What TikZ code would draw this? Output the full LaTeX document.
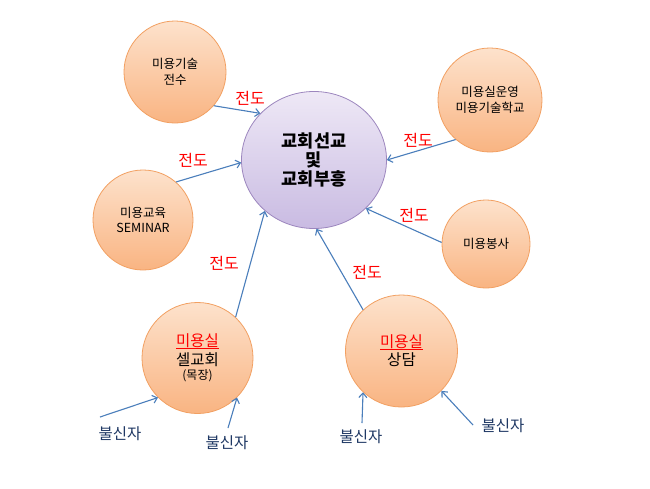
\documentclass[tikz,border=0pt]{standalone}
\usepackage{fontspec}
\setmainfont{Noto Sans CJK KR}
\usetikzlibrary{arrows.meta,shapes.geometric}
\definecolor{peachT}{HTML}{FDE2CC}
\definecolor{peachB}{HTML}{F9B482}
\definecolor{peachD}{HTML}{F2A062}
\definecolor{lilT}{HTML}{EEE8F6}
\definecolor{lilB}{HTML}{C9BBE2}
\definecolor{lilD}{HTML}{9C86BE}
\definecolor{arrowc}{HTML}{4A7EBB}
\definecolor{navy}{HTML}{1F3864}
\newcommand\redul[1]{\setbox0\hbox{#1}\rlap{\rule[-2.2pt]{\wd0}{0.9pt}}\box0}
\tikzset{
  orb/.style={circle, draw=peachD, line width=0.8pt, top color=peachT, bottom color=peachB, align=center, inner sep=0pt, font=\fontsize{12.5}{15.5}\selectfont},
  big/.style={font=\fontsize{15.5}{19}\selectfont},
  core/.style={ellipse, draw=lilD, line width=0.8pt, top color=lilT, bottom color=lilB, align=center, inner sep=0pt, minimum width=145pt, minimum height=137pt, font=\fontsize{17.5}{20}\selectfont\bfseries},
  lead/.style={text=red, font=\fontsize{16}{18}\selectfont},
  unb/.style={text=navy, font=\fontsize{15.5}{18}\selectfont},
  flow/.style={draw=arrowc, line width=1.1pt, -{Straight Barb[length=4.5pt,width=8pt]}}
}
\begin{document}
\begin{tikzpicture}[x=1pt,y=-1pt]
\useasboundingbox (0,0) rectangle (650,488);
\fill[white] (0,0) rectangle (650,488);
% nodes
\node[core] (c) at (314,160) {교회선교\\[-1pt]및\\[-1pt]교회부흥};
\node[orb, minimum size=102pt] (tl) at (175,72) {미용기술\\전수};
\node[orb, minimum size=104pt] (tr) at (490,100) {미용실운영\\미용기술학교};
\node[orb, minimum size=100pt] (l) at (143,220) {미용교육\\SEMINAR};
\node[orb, minimum size=88pt] (r) at (486,244) {미용봉사};
\node[orb, big, minimum size=111pt] (bl) at (197.5,358) {\textcolor{red}{\redul{미용실}}\\셀교회\\[-4.5pt]{\fontsize{12}{14}\selectfont (목장)}};
\node[orb, big, minimum size=112pt] (br) at (401.5,351) {\textcolor{red}{\redul{미용실}}\\[-1pt]상담};
% arrows into core
\draw[flow] (tl.-41) -- (c.139);
\draw[flow] (l.49) -- (c.182);
\draw[flow] (bl.47) -- (c.226);
\draw[flow] (br.133) -- (c.272);
\draw[flow] (r.178) -- (c.-43);
\draw[flow] (tr.229) -- (c.0);
% lead labels
\node[lead] (d1) at (250,98) {전도};
\node[lead] (d2) at (193,160) {전도};
\node[lead] (d3) at (224,263) {전도};
\node[lead] (d4) at (367,272) {전도};
\node[lead] (d5) at (414,215) {전도};
\node[lead] (d6) at (418,140) {전도};
% unbelievers
\node[unb] (u1) at (120,434) {불신자};
\node[unb] (u2) at (227,443) {불신자};
\node[unb] (u3) at (361,437) {불신자};
\node[unb] (u4) at (503,426) {불신자};
\coordinate (s1) at (100,417);
\coordinate (s2) at (228,428);
\coordinate (s3) at (362,423);
\coordinate (s4) at (473,425);
\draw[flow] (s1) -- (bl.225);
\draw[flow] (s2) -- (bl.-45);
\draw[flow] (s3) -- (br.227);
\draw[flow] (s4) -- (br.-45);
\end{tikzpicture}
\end{document}
